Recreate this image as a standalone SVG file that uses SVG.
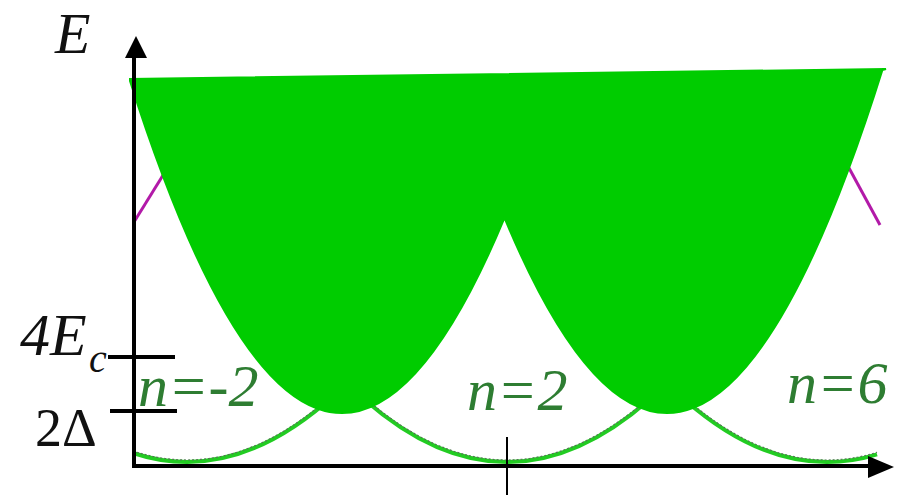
<svg xmlns="http://www.w3.org/2000/svg" width="897" height="503" viewBox="0 0 897 503">
<style>
.band{fill:#00cc00;stroke:#00cc00;stroke-width:2}
.low{fill:none;stroke:#22cc22;stroke-width:4}
.lowdot{fill:none;stroke:#557755;stroke-width:1.2;stroke-dasharray:2 2}
.mag{fill:none;stroke:#b21aa8;stroke-width:3}
.ax{stroke:#000;stroke-width:4;fill:none}
.tk{stroke:#000;stroke-width:4}
.lbl{font-family:"Liberation Serif",serif;fill:#111}
.nl{font-family:"Liberation Serif",serif;font-style:italic;fill:#2e7d32;font-size:60px}
</style>
<g id="bands">
<path class="mag" d="M134,222 L165,172"/>
<path class="mag" d="M849,168 L880,225"/>
<path class="low" d="M133,453 Q234,486.6 335,394.5"/>
<path class="low" d="M365,399.9 Q507,524.1 649,399.9"/>
<path class="low" d="M685,399.9 Q781,483.9 877,454.3"/>
<path class="lowdot" d="M133,451 Q234,484.6 335,392.5"/>
<path class="lowdot" d="M365,397.9 Q507,522.1 649,397.9"/>
<path class="lowdot" d="M685,397.9 Q781,481.9 877,452.3"/>
<path class="band" d="M130,81 Q317.25,667.7 504.5,217.9 Q693.45,671.8 882.4,70 L886,69 L130,79 Z"/>
</g>
<g id="axes">
<path class="ax" d="M134,467 L134,55"/>
<polygon points="136,36 125,58 147,58" fill="#000"/>
<path class="ax" d="M132,466 L872,466"/>
<polygon points="894,467 868,456 868,478" fill="#000"/>
<line class="tk" x1="108" y1="357" x2="175" y2="357"/>
<line class="tk" x1="110" y1="411" x2="177" y2="411"/>
<line x1="507" y1="437" x2="507" y2="495" stroke="#000" stroke-width="2"/>
</g>
<g id="labels">
<text class="lbl" x="55" y="53" font-size="58" font-style="italic">E</text>
<text class="lbl" x="20" y="355" font-size="60" font-style="italic">4E</text>
<text class="lbl" x="89" y="372" font-size="40" font-style="italic">c</text>
<text class="lbl" x="35" y="446" font-size="54">2Δ</text>
<text class="nl" x="138" y="406">n=-2</text>
<text class="nl" x="467" y="410">n=2</text>
<text class="nl" x="787" y="403">n=6</text>
</g>
</svg>
